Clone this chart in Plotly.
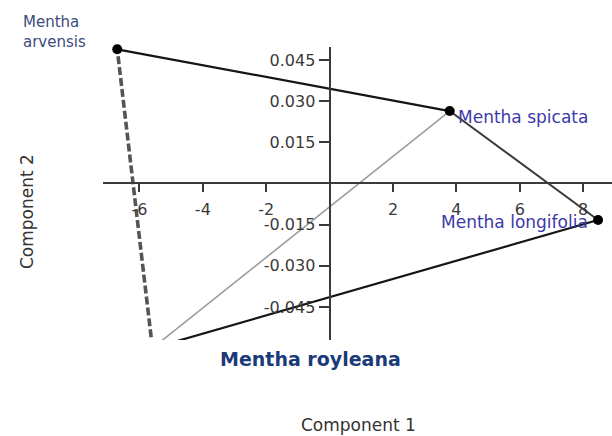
import plotly.graph_objects as go

# PCA scores of four Mentha species
species = ["Mentha arvensis", "Mentha spicata", "Mentha longifolia", "Mentha royleana"]
component1 = [-6.70, 3.79, 8.47, -5.59]
component2 = [0.0489, 0.0264, -0.0133, -0.0600]

x_ticks = [-6, -4, -2, 2, 4, 6, 8]
y_ticks = [0.045, 0.030, 0.015, -0.015, -0.030, -0.045]
y_tick_text = ["0.045", "0.030", "0.015", "-0.015", "-0.030", "-0.045"]

x_range = [-7.15, 8.91]
y_range = [-0.05703, 0.04974]

# plot-area box in pixels (used to place texts in the margins)
W, H = 612, 436
L, R, T, B = 103, 0, 47, 96
PW, PH = W - L - R, H - T - B


def px_to_paper(px, py):
    return (px - L) / PW, (H - B - py) / PH


# connections between species (index pairs) and their line styles
edges = [
    (0, 1, dict(color="#151515", width=2.2)),
    (1, 2, dict(color="#3a3a3a", width=2)),
    (2, 3, dict(color="#151515", width=2.2)),
    (3, 0, dict(color="#555555", width=3.6, dash="8px,3px")),
    (1, 3, dict(color="#9c9c9c", width=1.6)),
]

fig = go.Figure()
for a, b, style in edges:
    fig.add_trace(go.Scatter(
        x=[component1[a], component1[b]],
        y=[component2[a], component2[b]],
        mode="lines", line=style, hoverinfo="skip", showlegend=False,
    ))

# markers only for scores that fall inside the visible axis window
inside = [i for i in range(len(species))
          if x_range[0] <= component1[i] <= x_range[1] and y_range[0] <= component2[i] <= y_range[1]]
fig.add_trace(go.Scatter(
    x=[component1[i] for i in inside],
    y=[component2[i] for i in inside],
    mode="markers", marker=dict(color="#000000", size=10),
    cliponaxis=False, showlegend=False,
))

label_blue = "#3b3aa8"
fig.add_annotation(x=component1[0], y=component2[0], text="Mentha<br>arvensis",
                   showarrow=False, xanchor="center", yanchor="middle",
                   xshift=-63, yshift=17, align="left",
                   font=dict(family="DejaVu Sans", size=15, color="#3d4b7e"))
fig.add_annotation(x=component1[1], y=component2[1], text="Mentha spicata",
                   showarrow=False, xanchor="left", yanchor="middle",
                   xshift=6, yshift=-6,
                   font=dict(family="DejaVu Sans", size=17, color=label_blue))
fig.add_annotation(x=component1[2], y=component2[2], text="Mentha longifolia",
                   showarrow=False, xanchor="right", yanchor="middle",
                   xshift=-8, yshift=-2,
                   font=dict(family="DejaVu Sans", size=17, color=label_blue))

# the royleana score lies below the axis window; its label sits under the plot
rx, ry = px_to_paper(310, 359)
fig.add_annotation(xref="paper", yref="paper", x=rx, y=ry, text="<b>Mentha royleana</b>",
                   showarrow=False, xanchor="center", yanchor="middle",
                   font=dict(family="DejaVu Sans", size=19, color="#1b3a78"))

# axis titles
cx, cy = px_to_paper(358, 425)
fig.add_annotation(xref="paper", yref="paper", x=cx, y=cy, text="Component 1",
                   showarrow=False, xanchor="center", yanchor="middle",
                   font=dict(family="DejaVu Sans", size=17, color="#333333"))
vx, vy = px_to_paper(27, 212)
fig.add_annotation(xref="paper", yref="paper", x=vx, y=vy, text="Component 2",
                   textangle=-90, showarrow=False, xanchor="center", yanchor="middle",
                   font=dict(family="DejaVu Sans", size=17, color="#333333"))

# axes cross at the origin
x_axis_pos = (0 - y_range[0]) / (y_range[1] - y_range[0])
y_axis_pos = (0 - x_range[0]) / (x_range[1] - x_range[0])

tick_font = dict(family="DejaVu Sans", size=16, color="#3a3a3a")
fig.update_xaxes(range=x_range, anchor="free", position=x_axis_pos,
                 showline=True, linecolor="#3a3a3a", linewidth=2,
                 ticks="outside", ticklen=8, tickwidth=1.5, tickcolor="#3a3a3a",
                 tickvals=x_ticks, ticktext=[str(v) for v in x_ticks],
                 tickfont=tick_font, showgrid=False, zeroline=False, ticklabelstandoff=3)
fig.update_yaxes(range=y_range, anchor="free", position=y_axis_pos,
                 showline=True, linecolor="#3a3a3a", linewidth=2,
                 ticks="outside", ticklen=10, tickwidth=1.5, tickcolor="#3a3a3a",
                 tickvals=y_ticks, ticktext=y_tick_text,
                 tickfont=tick_font, showgrid=False, zeroline=False)

fig.update_layout(width=W, height=H,
                  margin=dict(l=L, r=R, t=T, b=B),
                  paper_bgcolor="white", plot_bgcolor="white",
                  showlegend=False)

fig.write_html("out.html")
